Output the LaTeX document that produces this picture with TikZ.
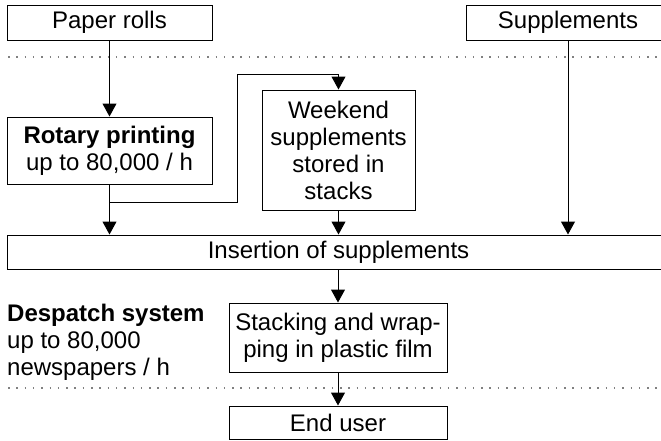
\documentclass[tikz,border=0pt]{standalone}
\usepackage{fontspec}
\setmainfont{Liberation Sans}
\usetikzlibrary{arrows.meta}

\begin{document}
\begin{tikzpicture}[x=1pt, y=-1pt,
  box/.style={draw, line width=1pt, inner sep=0pt, align=center},
  arr/.style={line width=1pt, -{Triangle[width=14pt,length=13pt]}},
  sep/.style={draw=gray, line width=1.3pt, dash pattern=on 1.5pt off 6.8pt}]

\fontsize{24}{27}\selectfont

% Formato dell'immagine
\useasboundingbox (0,0) rectangle (661,440);

% Separatori
\draw[sep] (8,57) -- (661,57);
\draw[sep] (8,388) -- (661,388);

% Ingressi
\node[box, minimum width=205pt, minimum height=35pt] (paper) at (109.5,22.5) {Paper rolls};
\node[box, minimum width=204pt, minimum height=35pt] (supp) at (568,22.5) {Supplements};

% Stampa
\node[box, minimum width=205pt, minimum height=67pt] (rotary) at (109.5,150.5)
  {\textbf{Rotary printing}\\up to 80,000 / h};
\node[box, minimum width=153pt, minimum height=120pt] (weekend) at (338.5,150)
  {Weekend\\supplements\\stored in\\stacks};

% Inserimento
\node[box, minimum width=663pt, minimum height=34pt] (insert) at (338.5,252) {Insertion of supplements};

% Spedizione
\node[anchor=north west, align=left, inner sep=0pt] (despatch) at (7,304)
  {\textbf{Despatch system}\\up to 80,000\\newspapers / h};
\node[box, minimum width=218pt, minimum height=69pt] (stack) at (338,337.5)
  {Stacking and wrap-\\ping in plastic film};
\node[box, minimum width=218pt, minimum height=33pt] (user) at (338,422.5) {End user};

% Collegamenti
\coordinate (split) at (109.5,202);
\coordinate (loop) at (237,74);
\draw[arr] (paper) -- (rotary);
\draw[arr] (rotary.south) -- (rotary.south |- insert.north);
\draw[arr] (split) -| (loop) -| (weekend.north);
\draw[arr] (weekend.south) -- (weekend.south |- insert.north);
\draw[arr] (supp.south) -- (supp.south |- insert.north);
\draw[arr] (stack.north |- insert.south) -- (stack.north);
\draw[arr] (stack) -- (user);

\end{tikzpicture}
\end{document}
